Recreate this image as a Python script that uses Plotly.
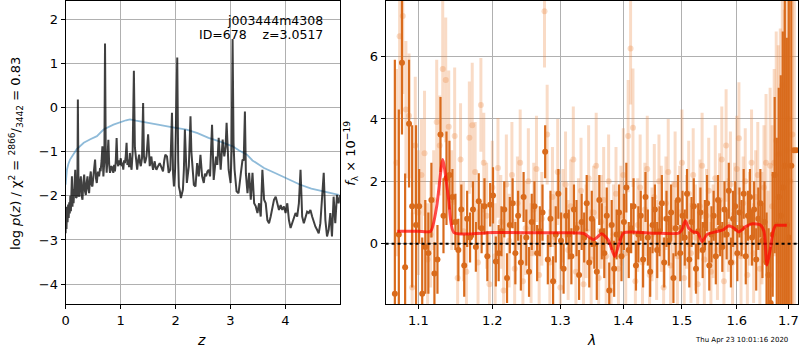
import plotly.graph_objects as go

# ---------------- left panel data: log p(z) ----------------
z_pz = [0.000,0.008,0.016,0.026,0.036,0.046,0.056,0.066,0.076,0.086,0.096,0.106,0.115,0.125,0.135,0.145,0.160,0.175,0.190,0.205,0.215,0.223,0.235,0.247,0.262,0.277,0.292,0.307,0.322,0.338,0.353,0.368,0.383,0.398,0.413,0.428,0.443,0.458,0.473,0.488,0.510,0.536,0.552,0.567,0.588,0.609,0.625,0.639,0.655,0.669,0.687,0.705,0.717,0.730,0.747,0.762,0.778,0.793,0.808,0.823,0.838,0.853,0.868,0.883,0.898,0.913,0.928,0.943,0.958,0.973,0.989,1.004,1.019,1.034,1.049,1.064,1.079,1.094,1.109,1.124,1.139,1.154,1.169,1.185,1.200,1.220,1.242,1.260,1.278,1.290,1.302,1.320,1.338,1.353,1.368,1.390,1.410,1.425,1.441,1.456,1.471,1.501,1.516,1.531,1.546,1.561,1.576,1.591,1.606,1.621,1.636,1.652,1.682,1.712,1.742,1.772,1.795,1.814,1.844,1.875,1.905,1.935,1.955,1.971,1.992,2.013,2.031,2.048,2.061,2.080,2.098,2.134,2.152,2.170,2.188,2.206,2.242,2.272,2.288,2.303,2.333,2.363,2.393,2.423,2.453,2.483,2.514,2.535,2.556,2.580,2.604,2.628,2.664,2.694,2.715,2.737,2.760,2.785,2.821,2.857,2.887,2.910,2.929,2.966,3.002,3.020,3.038,3.055,3.074,3.110,3.146,3.170,3.189,3.219,3.240,3.262,3.280,3.309,3.339,3.369,3.400,3.430,3.460,3.490,3.520,3.550,3.580,3.611,3.641,3.671,3.701,3.731,3.761,3.791,3.822,3.852,3.882,3.912,3.942,3.972,4.002,4.033,4.063,4.093,4.123,4.153,4.183,4.213,4.244,4.274,4.304,4.334,4.364,4.394,4.424,4.454,4.485,4.515,4.545,4.575,4.605,4.635,4.665,4.696,4.726,4.756,4.786,4.816,4.846,4.876,4.906,4.937,4.967,4.997]
logp = [-2.85,-2.25,-2.75,-2.30,-2.60,-2.20,-2.50,-2.15,-2.40,-2.00,-2.35,-1.90,-1.56,-2.25,-1.85,-2.17,-1.60,-1.41,-2.05,-2.02,-1.70,0.18,-1.95,-2.02,-1.70,-1.56,-2.00,-2.09,-1.70,-1.52,-1.90,-1.98,-1.70,-1.56,-1.85,-1.94,-1.60,-1.45,-1.75,-1.79,-1.50,-1.18,-1.60,-1.71,-1.45,-1.56,-1.40,-1.41,-1.20,-0.88,-1.56,-1.20,1.45,-1.00,-1.48,-1.10,-0.73,-1.30,-1.48,-1.35,-1.33,-1.42,-1.48,-1.30,-1.45,-1.20,-0.69,-1.25,-1.33,-1.20,-1.30,-1.15,-1.33,-1.25,-1.41,-1.20,-1.26,-1.10,-0.80,-1.30,-1.18,-1.35,-1.03,-1.30,-1.41,-1.00,0.83,-0.90,-1.11,-1.30,-1.41,-1.20,-1.07,-1.25,-1.33,-1.15,0.10,-1.10,-1.26,-1.20,-1.11,-0.61,-1.25,-1.33,-1.20,-1.11,-1.30,-1.41,-1.30,-1.22,-1.35,-1.41,-1.33,-1.26,-1.35,-1.45,-1.20,-1.07,-1.11,-1.48,-1.41,-0.12,-1.50,-1.79,-1.40,-0.12,1.13,-1.20,-1.79,-1.90,-2.05,-1.86,-1.40,-0.50,-1.30,-1.71,-1.33,-0.20,-1.00,-1.26,-1.75,-1.79,-1.26,-1.56,-1.07,-1.56,-1.71,-1.50,-1.56,-1.45,-1.41,-1.56,-0.39,-1.64,-1.30,-1.11,-1.30,-0.69,-1.41,-0.73,-1.11,-0.90,-0.35,-1.41,-1.71,-1.00,1.55,-0.80,-1.41,-1.90,-1.94,-1.60,-1.48,-1.18,-1.20,-0.09,-1.50,-1.94,-1.48,-2.09,-1.48,-2.17,-2.24,-2.39,-2.17,-2.47,-1.41,-2.09,-2.17,-2.55,-2.62,-2.47,-2.24,-2.09,-2.02,-2.17,-2.32,-2.21,-2.32,-2.24,-2.39,-2.17,-2.55,-2.73,-2.62,-2.55,-2.39,-2.47,-2.17,-1.41,-2.47,-2.62,-2.47,-2.36,-2.39,-2.32,-2.47,-2.62,-2.70,-2.77,-2.85,-2.62,-2.02,-1.48,-2.55,-2.92,-2.77,-2.39,-2.92,-2.02,-2.62,-1.98,-2.17,-1.98]

z_prior = [0.00,0.024,0.05,0.08,0.20,0.33,0.45,0.57,0.69,0.87,1.10,1.17,1.28,1.47,1.68,1.95,2.20,2.40,2.60,2.80,3.04,3.15,3.30,3.40,3.50,3.61,3.82,4.05,4.27,4.47,4.67,4.97]
logprior = [-1.75,-1.41,-1.28,-1.18,-0.95,-0.80,-0.72,-0.65,-0.50,-0.39,-0.29,-0.27,-0.30,-0.35,-0.39,-0.45,-0.50,-0.58,-0.69,-0.77,-0.88,-0.97,-1.07,-1.20,-1.28,-1.37,-1.49,-1.62,-1.75,-1.84,-1.90,-1.98]

# ---------------- right panel data: spectrum ----------------
wave_a = [1.070,1.075,1.079,1.083,1.088,1.092,1.097,1.101,1.105,1.109,1.113,1.117,1.121,1.125,1.129,1.133,1.137,1.141,1.145,1.149,1.153,1.157,1.161,1.165,1.169,1.173,1.177,1.181,1.185,1.189,1.193,1.197,1.201,1.205,1.209,1.213,1.217,1.221,1.225,1.229,1.233,1.237,1.241,1.245,1.249,1.253,1.257,1.261,1.265,1.269,1.273,1.277,1.281,1.285,1.289,1.293,1.297,1.301,1.305,1.309,1.313,1.317,1.321,1.325,1.329,1.333,1.337,1.341,1.345,1.349,1.353,1.357,1.361,1.365,1.369,1.373,1.377,1.381,1.385,1.389,1.393,1.397,1.401,1.405,1.409,1.413,1.417,1.421,1.425,1.429,1.433,1.437,1.441,1.445,1.449,1.453,1.457,1.461,1.465,1.469,1.473,1.477,1.481,1.485,1.489,1.493,1.497,1.501,1.505,1.509,1.513,1.517,1.521,1.525,1.529,1.533,1.537,1.541,1.545,1.549,1.553,1.557,1.561,1.565,1.569,1.573,1.577,1.581,1.585,1.589,1.593,1.597,1.601,1.605,1.609,1.613,1.617,1.621,1.625,1.629,1.633,1.637,1.641,1.645,1.649,1.653,1.657,1.661,1.665,1.669,1.673,1.677,1.681,1.685,1.689,1.693,1.697,1.701,1.706,1.711,1.716]
flux_a = [-1.6,0.3,5.8,-0.75,3.85,1.2,0.6,1.2,-1.6,-0.1,-0.3,1.4,-0.95,-0.5,3.5,0.9,2.1,2.2,1.5,0.7,-0.2,1.1,-0.7,0.8,0.2,1.1,-0.1,1.36,0.5,1.2,-0.4,1.25,1.55,-0.57,-0.3,0.4,1.1,-1.1,0.6,1.3,-0.3,0.9,-0.6,1.5,0.2,-0.9,0.7,1.2,-0.3,0.4,1.0,2.95,-0.5,0.8,-1.2,0.3,1.6,0.1,-0.8,0.9,0.3,-0.4,1.1,0.5,-1.0,0.7,0.2,1.3,-0.6,0.8,0.0,-0.9,1.4,0.4,-0.3,0.9,-1.5,0.6,-0.8,0.3,1.0,-0.4,0.7,1.8,-0.2,0.5,1.2,-0.7,0.3,0.9,-0.5,1.5,0.2,-0.9,0.6,1.1,-0.2,0.4,1.3,-0.6,0.8,0.1,1.0,-1.1,0.5,1.4,-0.3,0.9,0.2,1.6,-0.5,0.7,1.2,-0.8,0.4,1.0,-0.2,0.6,1.3,-0.7,0.3,0.9,-0.4,1.4,0.5,-0.1,1.1,0.3,1.7,-0.6,0.8,1.2,-0.3,1.0,0.5,1.6,-0.4,0.9,1.5,0.2,1.1,-0.5,0.8,1.3,0.1,0.7,-0.6,-1.0,-1.9,0.3,2.2,0.6,1.5,0.9,1.8,2.5,0.6,0.2,2.5,3.0,3.0]
err_a = [7.5,4.0,2.3,3.0,2.05,2.6,3.2,1.2,1.8,1.5,1.3,1.2,1.0,1.1,1.2,1.2,1.5,1.1,0.9,0.9,1.0,0.8,1.0,0.9,0.8,0.9,0.8,0.9,0.8,0.9,0.8,0.7,0.9,0.8,0.9,0.8,0.9,0.8,0.9,0.8,1.0,0.8,0.9,0.8,0.9,0.8,0.9,0.8,0.9,0.8,0.9,0.85,0.8,0.9,0.8,0.9,0.8,0.9,0.8,0.9,0.8,0.9,0.8,0.9,0.8,0.9,0.8,0.9,0.8,0.9,0.8,0.9,0.8,0.9,0.8,0.9,0.9,0.8,0.9,0.8,0.9,0.8,0.9,0.8,0.9,0.8,0.9,0.8,0.9,0.8,0.9,0.8,0.9,0.8,0.9,0.8,0.9,0.8,0.9,0.8,0.9,0.8,0.9,0.8,0.9,0.8,0.9,0.8,0.9,0.8,0.9,0.8,0.9,0.8,0.9,0.8,0.9,0.8,0.9,0.8,0.9,0.8,0.9,0.8,0.9,0.8,0.9,0.8,0.9,0.8,0.9,0.8,0.9,0.8,0.9,0.8,0.9,0.8,0.9,0.9,0.9,1.0,1.0,1.1,1.2,1.3,1.6,1.5,1.8,2.0,2.5,2.8,3.5,4.5,5.0,5.5,6.0,8.0,9.0]

wave_b = [1.072,1.076,1.080,1.084,1.088,1.092,1.096,1.100,1.104,1.108,1.112,1.116,1.120,1.124,1.128,1.132,1.136,1.140,1.144,1.148,1.152,1.156,1.160,1.164,1.168,1.172,1.176,1.180,1.184,1.188,1.192,1.196,1.200,1.204,1.208,1.212,1.216,1.220,1.224,1.228,1.232,1.236,1.240,1.244,1.248,1.252,1.256,1.260,1.264,1.268,1.272,1.276,1.280,1.284,1.288,1.292,1.296,1.300,1.304,1.308,1.312,1.316,1.320,1.324,1.328,1.332,1.336,1.340,1.344,1.348,1.352,1.356,1.360,1.364,1.368,1.372,1.376,1.380,1.384,1.388,1.392,1.396,1.400,1.404,1.408,1.412,1.416,1.420,1.424,1.428,1.432,1.436,1.440,1.444,1.448,1.452,1.456,1.460,1.464,1.468,1.472,1.476,1.480,1.484,1.488,1.492,1.496,1.500,1.504,1.508,1.512,1.516,1.520,1.524,1.528,1.532,1.536,1.540,1.544,1.548,1.552,1.556,1.560,1.564,1.568,1.572,1.576,1.580,1.584,1.588,1.592,1.596,1.600,1.604,1.608,1.612,1.616,1.620,1.624,1.628,1.632,1.636,1.640,1.644,1.648,1.652,1.656,1.660,1.664,1.668,1.672,1.676,1.680,1.684,1.688,1.692,1.696,1.700,1.704,1.708,1.712]
flux_b = [2.6,6.65,7.3,4.3,4.1,-1.4,3.15,1.0,2.2,2.9,-0.5,0.3,1.4,3.9,3.15,5.6,5.25,3.75,1.4,3.45,-1.1,2.7,0.4,-0.9,3.4,3.8,2.3,-0.6,4.45,2.6,0.9,-1.3,1.8,-0.4,2.43,0.7,-1.5,1.9,0.1,2.2,-0.8,1.3,2.6,-1.2,0.5,2.0,-0.3,1.1,2.4,-1.0,0.8,7.45,3.5,-0.6,1.5,0.2,2.3,-1.4,0.9,1.9,-0.2,1.2,2.7,-0.9,0.6,1.7,-1.3,0.4,2.1,-0.5,1.0,2.5,-1.1,0.7,1.4,-0.4,2.0,-1.5,0.3,1.6,-0.8,0.9,2.2,-0.3,3.45,6.26,3.72,-1.2,0.6,1.8,-0.6,1.1,2.4,-1.0,0.3,1.5,-0.2,2.0,0.8,-1.4,1.3,2.3,-0.7,0.5,1.9,-0.4,1.0,2.6,-1.1,0.7,1.6,-0.3,2.2,0.2,-1.3,1.2,2.5,-0.5,0.9,1.7,-0.9,0.4,2.1,-0.2,1.4,2.7,-1.2,3.15,0.6,1.9,-0.6,1.1,2.4,3.38,-0.4,1.3,2.0,-1.0,0.8,2.6,-0.3,1.5,2.2,-0.8,0.5,1.8,2.6,-0.5,2.5,1.2,2.6,3.3,2.86,2.9,5.08,2.5,3.0,4.0,2.0,3.5,3.0]
err_b = [3.0,2.5,2.5,2.2,2.0,2.4,2.2,2.0,1.8,2.0,1.8,1.7,1.6,2.0,1.6,2.2,2.0,1.8,1.6,2.2,1.7,1.8,1.6,1.7,1.8,2.0,1.6,1.7,1.5,1.6,1.7,1.6,1.5,1.7,1.6,1.5,1.7,1.6,1.5,1.7,1.6,1.5,1.7,1.6,1.5,1.7,1.6,1.5,1.7,1.6,1.5,1.8,1.6,1.7,1.6,1.5,1.7,1.6,1.5,1.7,1.6,1.5,1.7,1.6,1.5,1.7,1.6,1.5,1.7,1.6,1.5,1.7,1.6,1.5,1.7,1.6,1.5,1.7,1.6,1.5,1.7,1.6,1.5,1.7,1.8,1.8,1.9,1.6,1.5,1.7,1.6,1.5,1.7,1.6,1.5,1.7,1.6,1.5,1.7,1.6,1.5,1.7,1.6,1.5,1.7,1.6,1.5,1.7,1.6,1.5,1.7,1.6,1.5,1.7,1.6,1.5,1.7,1.6,1.5,1.7,1.6,1.5,1.7,1.6,1.5,1.7,1.6,1.8,1.5,1.7,1.6,1.5,1.7,1.8,1.6,1.5,1.7,1.6,1.5,1.7,1.6,1.5,1.7,1.6,1.8,2.0,2.2,2.2,2.5,2.6,3.0,3.5,3.5,4.0,4.5,5.0,5.5,6.0,6.5,7.0,8.0]

wave_model = [1.073,1.100,1.116,1.124,1.132,1.140,1.147,1.200,1.300,1.336,1.352,1.365,1.376,1.386,1.393,1.401,1.450,1.494,1.500,1.506,1.512,1.520,1.528,1.536,1.545,1.560,1.575,1.585,1.595,1.604,1.617,1.630,1.645,1.652,1.658,1.664,1.670,1.675,1.685,1.697]
flux_model = [0.40,0.40,0.40,1.20,2.70,1.40,0.36,0.36,0.35,0.33,0.13,0.32,0.10,-0.41,0.00,0.35,0.34,0.34,0.45,0.74,0.50,0.38,0.35,0.07,0.30,0.38,0.45,0.58,0.50,0.38,0.55,0.64,0.60,0.40,-0.68,-0.20,0.40,0.59,0.59,0.59]

x_ticks_left = [0, 1, 2, 3, 4]
y_ticks_left = [-4, -3, -2, -1, 0, 1, 2]
x_ticks_right = [1.1, 1.2, 1.3, 1.4, 1.5, 1.6, 1.7]
y_ticks_right = [0, 2, 4, 6]

FONT = "DejaVu Sans"
DARK = "#d96b1c"
LIGHT = "rgba(235,135,65,0.3)"

fig = go.Figure()

# left panel
fig.add_trace(go.Scatter(x=z_prior, y=logprior, mode="lines",
                         line=dict(color="rgba(31,119,180,0.5)", width=1.8),
                         xaxis="x", yaxis="y", hoverinfo="skip"))
fig.add_trace(go.Scatter(x=z_pz, y=logp, mode="lines",
                         line=dict(color="rgba(0,0,0,0.75)", width=2),
                         xaxis="x", yaxis="y", hoverinfo="skip"))

# right panel
fig.add_trace(go.Scatter(x=wave_b, y=flux_b, mode="markers",
                         marker=dict(color=LIGHT, size=6),
                         error_y=dict(type="data", array=err_b, color=LIGHT, thickness=3, width=0),
                         xaxis="x2", yaxis="y2", hoverinfo="skip"))
fig.add_trace(go.Scatter(x=wave_a, y=flux_a, mode="markers",
                         marker=dict(color=DARK, size=6),
                         error_y=dict(type="data", array=err_a, color=DARK, thickness=2.2, width=0),
                         xaxis="x2", yaxis="y2", hoverinfo="skip"))
fig.add_trace(go.Scatter(x=[1.0584, 1.7196], y=[0, 0], mode="lines",
                         line=dict(color="black", width=2, dash="dot"),
                         xaxis="x2", yaxis="y2", hoverinfo="skip"))
fig.add_trace(go.Scatter(x=wave_model, y=flux_model, mode="lines",
                         line=dict(color="rgba(255,0,0,0.7)", width=3, shape="spline", smoothing=0.6),
                         xaxis="x2", yaxis="y2", hoverinfo="skip"))

axis_common = dict(showline=True, linecolor="black", linewidth=1, mirror=True,
                   ticks="outside", ticklen=4, tickcolor="black",
                   showgrid=True, gridcolor="#b0b0b0", gridwidth=1, zeroline=False,
                   tickfont=dict(family=FONT, size=13, color="black"))

fig.update_layout(
    width=800, height=350, margin=dict(l=0, r=0, t=0, b=0),
    paper_bgcolor="white", plot_bgcolor="white", showlegend=False,
    font=dict(family=FONT, color="black"),
    xaxis=dict(domain=[62/800, 338/800], range=[0, 4.99], tickvals=x_ticks_left,
               anchor="y", **axis_common),
    yaxis=dict(domain=[1-304/350, 1-1/350], range=[-4.45, 2.41], tickvals=y_ticks_left,
               anchor="x", **axis_common),
    xaxis2=dict(domain=[384/800, 799/800], type="log", range=[0.02465, 0.2354],
                tickvals=x_ticks_right, ticktext=[f"{v:.1f}" for v in x_ticks_right],
                anchor="y2", **axis_common),
    yaxis2=dict(domain=[1-304/350, 1-1/350], range=[-1.93, 7.78], tickvals=y_ticks_right,
                anchor="x2", **axis_common),
)

ann = [
    dict(text="j003444m4308", x=323/800, y=1-20/350, xanchor="right", yanchor="middle",
         font=dict(size=12.5)),
    dict(text="ID=678\u00a0\u00a0\u00a0\u00a0z=3.0517", x=323/800, y=1-35/350, xanchor="right",
         yanchor="middle", font=dict(size=12.5)),
    dict(text="<i>z</i>", x=199/800, y=1-340/350, xanchor="center", yanchor="middle",
         font=dict(size=14)),
    dict(text="<i>λ</i>", x=591/800, y=1-340/350, xanchor="center", yanchor="middle",
         font=dict(size=14)),
    dict(text="log <i>p</i>(<i>z</i>) / χ<sup>2</sup> = <sup>2866</sup>/<sub>3442</sub> = 0.83",
         x=12/800, y=1-153/350, xanchor="center", yanchor="middle", textangle=-90,
         font=dict(size=13)),
    dict(text="<i>f</i><sub>λ</sub> × 10<sup>−19</sup>", x=349/800, y=1-153/350,
         xanchor="center", yanchor="middle", textangle=-90, font=dict(size=13)),
    dict(text="Thu Apr 23 10:01:16 2020", x=742/800, y=1-340/350, xanchor="center",
         yanchor="middle", font=dict(size=7)),
]
for a in ann:
    a.update(xref="paper", yref="paper", showarrow=False)
fig.update_layout(annotations=ann)

fig.write_html("out.html")
